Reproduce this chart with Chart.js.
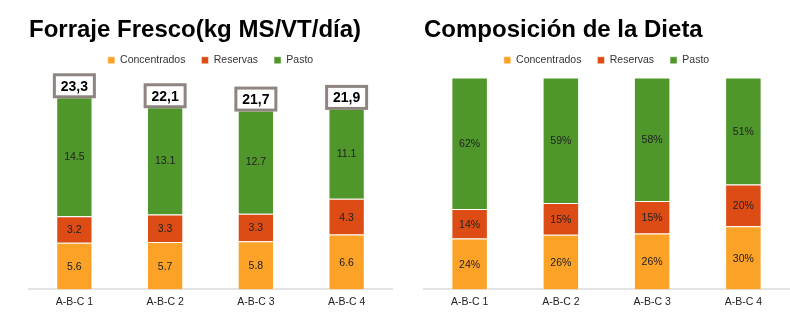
<!DOCTYPE html>
<html>
<head>
<meta charset="utf-8">
<script src="https://cdn.jsdelivr.net/npm/chart.js@4/dist/chart.umd.min.js"></script>
<style>
  body { margin: 0; background: #fff; }
  .panel { position: absolute; top: 0; width: 395px; height: 321px; }
</style>
</head>
<body>
<div class="panel" style="left:0"><canvas id="kgChart" width="395" height="321"></canvas></div>
<div class="panel" style="left:395px"><canvas id="pctChart" width="395" height="321"></canvas></div>
<script>
// datos
const categories = ['A-B-C 1', 'A-B-C 2', 'A-B-C 3', 'A-B-C 4'];
const seriesNames = ['Concentrados', 'Reservas', 'Pasto'];

const kgConcentrados = [5.6, 5.7, 5.8, 6.6];
const kgReservas = [3.2, 3.3, 3.3, 4.3];
const kgPasto = [14.5, 13.1, 12.7, 11.1];
const kgTotales = [23.3, 22.1, 21.7, 21.9];

const pctConcentrados = [24.0, 25.8, 26.4, 29.8];
const pctReservas = [14.0, 15.0, 15.3, 19.7];
const pctPasto = [62.0, 59.2, 58.3, 50.5];

const colors = ['#fca227', '#dc4c14', '#4f962b'];
const FONT = "'Liberation Sans', Arial, sans-serif";

Chart.defaults.font.family = FONT;
Chart.defaults.color = '#222';

// valores dentro de cada barra
const barLabels = {
    id: 'barLabels',
    afterDatasetsDraw(chart, args, opts) {
        const ctx = chart.ctx;
        ctx.save();
        ctx.font = '10.5px ' + FONT;
        ctx.fillStyle = '#222';
        ctx.textAlign = 'center';
        ctx.textBaseline = 'middle';
        chart.data.datasets.forEach((ds, i) => {
            chart.getDatasetMeta(i).data.forEach((bar, j) => {
                ctx.fillText(opts.format(ds.data[j]), bar.x, (bar.y + bar.base) / 2 + 1);
            });
        });
        ctx.restore();
    }
};

// cajas con el total arriba de cada barra
const totalBoxes = {
    id: 'totalBoxes',
    afterDatasetsDraw(chart, args, opts) {
        if (!opts.values) return;
        const ctx = chart.ctx;
        const yScale = chart.scales.y;
        const meta = chart.getDatasetMeta(chart.data.datasets.length - 1);
        ctx.save();
        opts.values.forEach((v, i) => {
            const x = meta.data[i].x;
            const bottom = yScale.getPixelForValue(v) + 2.5;
            const w = 43, h = 25;
            ctx.fillStyle = '#fff';
            ctx.strokeStyle = '#8e8580';
            ctx.lineWidth = 3;
            ctx.fillRect(x - w / 2, bottom - h, w, h);
            ctx.strokeRect(x - w / 2 + 1.5, bottom - h + 1.5, w - 3, h - 3);
            ctx.font = 'bold 14px ' + FONT;
            ctx.fillStyle = '#000';
            ctx.textAlign = 'center';
            ctx.textBaseline = 'middle';
            ctx.fillText(v.toFixed(1).replace('.', ','), x, bottom - h / 2 + 1);
        });
        ctx.restore();
    }
};

// un poco de aire bajo la leyenda
const legendGap = {
    id: 'legendGap',
    beforeInit(chart) {
        const fit = chart.legend.fit;
        chart.legend.fit = function () {
            fit.bind(chart.legend)();
            this.height += 2;
        };
    }
};

function makeDatasets(a, b, c) {
    return [a, b, c].map((d, i) => ({
        label: seriesNames[i],
        data: d,
        backgroundColor: colors[i],
        borderColor: 'rgba(255,255,255,0.45)',
        borderWidth: 1,
        barPercentage: 0.4,
        categoryPercentage: 1
    }));
}

function makeOptions(title, yMax, pad, labelFmt, totals) {
    return {
        responsive: false,
        animation: false,
        layout: { padding: pad },
        scales: {
            x: {
                stacked: true,
                grid: { display: false, drawTicks: false },
                border: { display: true, color: '#e3e3e3', width: 2 },
                ticks: { color: '#222', font: { size: 10.5 }, padding: 6 }
            },
            y: { stacked: true, display: false, min: 0, max: yMax }
        },
        plugins: {
            title: {
                display: true,
                text: title,
                align: 'start',
                color: '#000',
                font: { size: 24, weight: 'bold', lineHeight: 0.75 },
                padding: { top: 21, bottom: 0 }
            },
            legend: {
                position: 'top',
                labels: {
                    boxWidth: 7,
                    boxHeight: 7,
                    padding: 16,
                    color: '#333',
                    font: { size: 10.5 }
                }
            },
            tooltip: { enabled: false },
            barLabels: { format: labelFmt },
            totalBoxes: { values: totals }
        }
    };
}

new Chart(document.getElementById('kgChart'), {
    type: 'bar',
    data: { labels: categories, datasets: makeDatasets(kgConcentrados, kgReservas, kgPasto) },
    options: makeOptions('Forraje Fresco(kg MS/VT/día)', 25.5,
        { left: 29, right: 3, top: 0, bottom: 7 },
        v => v.toFixed(1), kgTotales),
    plugins: [barLabels, totalBoxes, legendGap]
});

new Chart(document.getElementById('pctChart'), {
    type: 'bar',
    data: { labels: categories, datasets: makeDatasets(pctConcentrados, pctReservas, pctPasto) },
    options: makeOptions('Composición de la Dieta', 100,
        { left: 29, right: 1, top: 0, bottom: 7 },
        v => Math.round(v) + '%', null),
    plugins: [barLabels, totalBoxes, legendGap]
});
</script>
</body>
</html>
